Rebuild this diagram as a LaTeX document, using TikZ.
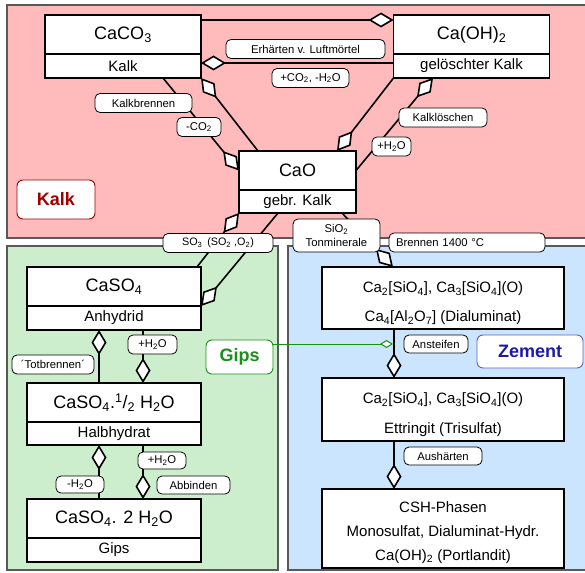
\documentclass[tikz,border=0pt]{standalone}
\usepackage{fontspec}
\setmainfont{Liberation Sans}
\usetikzlibrary{positioning,arrows.meta}

\definecolor{kalkbg}{HTML}{FFBBBB}
\definecolor{gipsbg}{HTML}{CCEECC}
\definecolor{zementbg}{HTML}{CCE5FF}
\definecolor{kalkred}{HTML}{A00000}
\definecolor{gipsgreen}{HTML}{1A901A}
\definecolor{zementblue}{HTML}{1A1AAA}

\tikzset{
  panel/.style={draw=black!65, line width=1.4pt},
  titlebox/.style={draw, fill=white, line width=1.6pt, outer sep=0pt, minimum height=39pt,
    font=\fontsize{18}{20}\selectfont},
  subbox/.style={draw, fill=white, line width=1.6pt, outer sep=0pt, minimum height=24pt,
    font=\fontsize{15}{17}\selectfont},
  phasebox/.style={draw, fill=white, line width=1.6pt, outer sep=0pt, minimum width=242pt,
    align=center},
  tag/.style={draw, fill=white, line width=0.8pt, rounded corners=5pt, minimum height=19pt,
    inner sep=1pt, font=\fontsize{11.3}{14}\selectfont},
  grouplbl/.style={draw, fill=white, line width=0.9pt, rounded corners=6pt,
    font=\fontsize{18}{20}\selectfont\bfseries},
  agg/.style={line width=1.6pt, -{Diamond[length=25pt,width=15pt,fill=white]}},
}

\begin{document}
\begin{tikzpicture}[x=1pt,y=-1pt]
\useasboundingbox (0,0) rectangle (585,572);
\clip (0,0) rectangle (585,572);

% Bereiche
\draw[panel, fill=kalkbg] (7,5) rectangle (600,238);
\draw[panel, fill=gipsbg] (7,246) rectangle (278,570);
\draw[panel, fill=zementbg] (288,246) rectangle (600,570);

% Kalk
\node[titlebox, minimum width=156pt] (caco3) at (123,34.5) {CaCO\textsubscript{3}};
\node[subbox, minimum width=156pt, below=0pt of caco3] (caco3s) {Kalk};
\node[titlebox, minimum width=156pt] (caoh) at (471.5,34.5) {Ca(OH)\textsubscript{2}};
\node[subbox, minimum width=156pt, below=0pt of caoh] (caohs) {gelöschter Kalk};
\node[titlebox, minimum width=117pt] (cao) at (297.5,170.5) {CaO};
\node[subbox, minimum width=117pt, minimum height=23pt, below=0pt of cao] (caos) {gebr. Kalk};

% Gips
\node[titlebox, minimum width=174pt] (caso4) at (114,286.5) {CaSO\textsubscript{4}};
\node[subbox, minimum width=174pt, below=0pt of caso4] (caso4s) {Anhydrid};
\node[titlebox, minimum width=174pt] (hh) at (114,402.5)
  {CaSO\textsubscript{4}.\textsuperscript{1}/\textsubscript{2} H\textsubscript{2}O};
\node[subbox, minimum width=174pt, minimum height=23pt, below=0pt of hh] (hhs) {Halbhydrat};
\node[titlebox, minimum width=174pt] (gips) at (114,518.5) {CaSO\textsubscript{4}. 2 H\textsubscript{2}O};
\node[subbox, minimum width=174pt, below=0pt of gips] (gipss) {Gips};

% Zement
\node[phasebox, minimum height=62pt, font=\fontsize{15}{29}\selectfont] (zem1) at (443,298)
  {\rule{0pt}{22pt}Ca\textsubscript{2}[SiO\textsubscript{4}], Ca\textsubscript{3}[SiO\textsubscript{4}](O)\\
   Ca\textsubscript{4}[Al\textsubscript{2}O\textsubscript{7}] (Dialuminat)};
\node[phasebox, minimum height=63pt, font=\fontsize{15}{30}\selectfont] (zem2) at (443,409.5)
  {\rule{0pt}{22pt}Ca\textsubscript{2}[SiO\textsubscript{4}], Ca\textsubscript{3}[SiO\textsubscript{4}](O)\\
   Ettringit (Trisulfat)};
\node[phasebox, minimum height=79pt, font=\fontsize{15}{24}\selectfont] (zem3) at (443,528.5)
  {\rule{0pt}{19pt}CSH-Phasen\\ Monosulfat, Dialuminat-Hydr.\\ Ca(OH)\textsubscript{2} (Portlandit)};

% Reaktionen
\draw[agg] ([yshift=-5pt]caco3.north east) -- ([yshift=-5pt]caoh.north west);
\draw[agg] ([yshift=3pt]caohs.west) -- ([yshift=3pt]caco3s.east);
\draw[agg] ([xshift=40pt]caco3s.south) -- (cao.west);
\draw[agg] ([xshift=-39.5pt]cao.north) -- (caco3s.south east);
\draw[agg] (caohs.south west) -- ([xshift=39.5pt]cao.north);
\draw[agg] (cao.east) -- ([xshift=-38.5pt]caohs.south);
\draw[agg] ([xshift=83pt]caso4.north) -- (caos.south west);
\draw[agg] ([xshift=-19.5pt]caos.south) -- (caso4.south east);
\draw[agg] ([xshift=44.5pt]caos.south) -- ([xshift=-50pt]zem1.north);
\draw[agg] ([xshift=-15pt]hh.north) -- ([xshift=-15pt]caso4s.south);
\draw[agg] ([xshift=29pt]caso4s.south) -- ([xshift=29pt]hh.north);
\draw[agg] ([xshift=-15pt]gips.north) -- ([xshift=-15pt]hhs.south);
\draw[agg] ([xshift=29pt]hhs.south) -- ([xshift=29pt]gips.north);
\draw[agg] ([xshift=-49pt]zem1.south) -- ([xshift=-49pt]zem2.north);
\draw[agg] ([xshift=-49pt]zem2.south) -- ([xshift=-49pt]zem3.north);

% Beschriftungen
\node[tag, minimum width=159pt] (erh) at (305.5,49) {Erhärten v. Luftmörtel};
\node[tag, minimum width=77pt] (co2h2o) at (310.5,78) {+CO\textsubscript{2}, -H\textsubscript{2}O};
\node[tag, minimum width=97pt] (brennen) at (143.5,103) {Kalkbrennen};
\node[tag, minimum width=44pt] (minco2) at (199,127) {-CO\textsubscript{2}};
\node[tag, minimum width=88pt] (loeschen) at (443,117.5) {Kalklöschen};
\node[tag, minimum width=39pt] (plush2o) at (391.5,146.5) {+H\textsubscript{2}O};
\node[tag, minimum width=110pt, font=\fontsize{10.8}{13}\selectfont] (so3) at (218,243)
  {SO\textsubscript{3}\, (SO\textsubscript{2} ,O\textsubscript{2})};
\node[tag, minimum width=87pt, minimum height=33pt, align=center] (sio2) at (336.5,235.5)
  {SiO\textsubscript{2}\\ Tonminerale};
\node[tag, text width=142pt, align=left, inner xsep=7pt, minimum height=19pt] (ofen) at (467,242.5)
  {Brennen 1400 °C};
\node[tag, minimum width=82pt] (totbr) at (53,364.5) {´Totbrennen´};
\node[tag, minimum width=49pt] (hydr1) at (152.5,344.5) {+H\textsubscript{2}O};
\node[tag, minimum width=48pt, minimum height=17pt] (dehydr) at (80,484.5) {-H\textsubscript{2}O};
\node[tag, minimum width=48pt, minimum height=17pt] (hydr2) at (162,460.5) {+H\textsubscript{2}O};
\node[tag, minimum width=73pt, minimum height=18pt] (abb) at (193.5,485) {Abbinden};
\node[tag, minimum width=64pt, minimum height=18pt] (anst) at (436,344) {Ansteifen};
\node[tag, minimum width=78pt, minimum height=18pt] (aush) at (443,456) {Aushärten};

% Gruppen
\node[grouplbl, draw=kalkred, text=kalkred, minimum width=78pt, minimum height=39pt]
  (kalklbl) at (56,199.5) {Kalk};
\node[grouplbl, draw=gipsgreen, text=gipsgreen, minimum width=67pt, minimum height=34pt]
  (gipslbl) at (239.5,357) {Gips};
\node[grouplbl, draw=zementblue!70, text=zementblue, minimum width=106pt, minimum height=33pt]
  (zemlbl) at (530,351.5) {Zement};
\coordinate (ansteif) at (393,344);
\draw[gipsgreen, line width=1pt, -{Diamond[length=13pt,width=8pt,fill=white]}]
  ([yshift=13pt]gipslbl.east) -- (ansteif);
\end{tikzpicture}
\end{document}
